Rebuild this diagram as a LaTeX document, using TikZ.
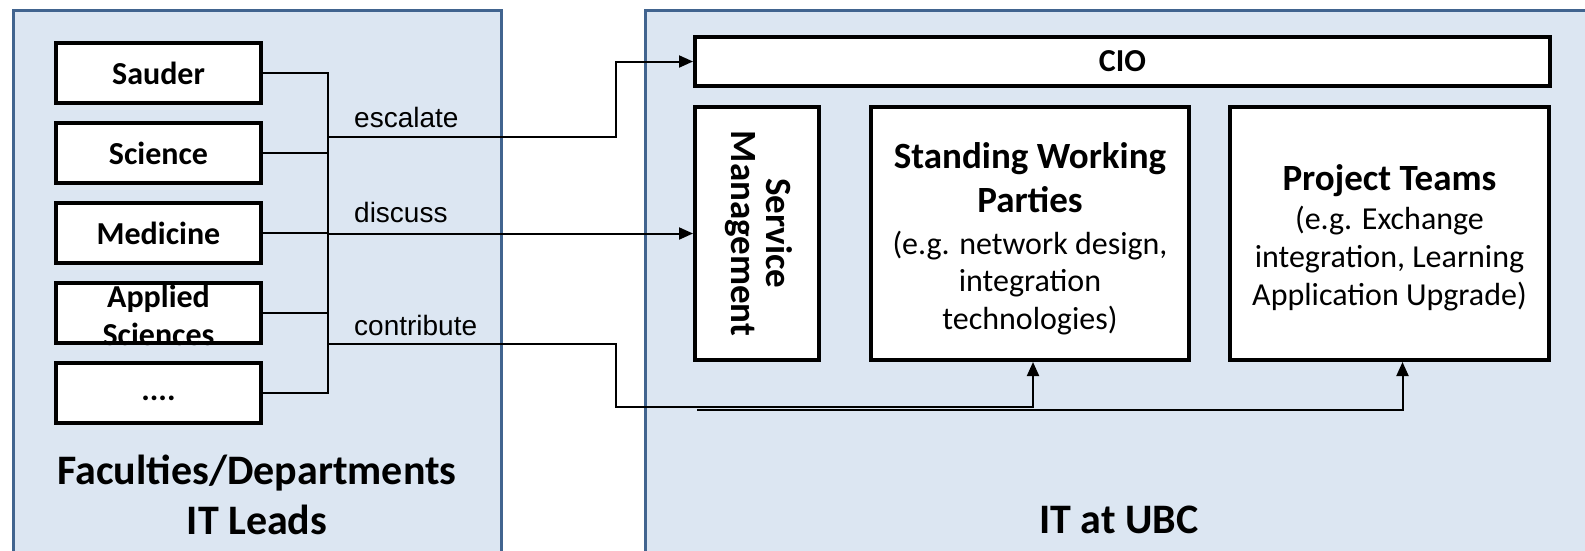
\documentclass[tikz,border=0pt]{standalone}
\usepackage{fontspec}
\setmainfont{Carlito}
\newfontfamily\verbfont{Liberation Sans}
\usetikzlibrary{arrows.meta,positioning}
\definecolor{panelfill}{RGB}{220,230,242}
\definecolor{paneledge}{RGB}{65,100,143}
\newcommand\grouphead[1]{{\fontsize{37}{42}\selectfont\bfseries #1}}
\begin{document}
\begin{tikzpicture}[x=1pt,y=-1pt,>={Triangle[length=14pt,width=12pt]},
        panel/.style={draw=paneledge,line width=3pt,fill=panelfill},
        unit/.style={draw,line width=4pt,fill=white,inner sep=0pt,align=center,
                font=\fontsize{32}{37}\selectfont\bfseries},
        faculty/.style={unit,minimum width=205,minimum height=60},
        group/.style={unit,minimum height=253,font=\fontsize{32}{37}\selectfont},
        conn/.style={line width=2pt},
        verb/.style={anchor=base west,inner sep=0pt,font=\verbfont\fontsize{28}{32}\selectfont},
        heading/.style={align=center,inner sep=0pt,font=\fontsize{42}{50}\selectfont\bfseries}]
                \useasboundingbox (0,0) rectangle (1585,550);
                \clip (0,0) rectangle (1585,550);
                \draw[panel] (13,10) rectangle (501,600);
                \draw[panel] (645,10) rectangle (1640,600);
                \node[faculty] (sauder) at (158.5,73) {Sauder};
                \node[faculty,below=16pt of sauder] (science) {Science};
                \node[faculty,below=16pt of science] (medicine) {Medicine};
                \node[faculty,below=16pt of medicine] (appsci) {};
                \node[faculty,below=16pt of appsci] (dots) {\strut....};
                \node[font=\fontsize{32}{38}\selectfont\bfseries,align=center,inner sep=0pt] (appscitext) at ([yshift=-2pt]appsci) {Applied\\Sciences};
                \node[heading] (fac) at (257,495) {Faculties/Departments\\IT Leads};
                \node[unit,minimum width=855,minimum height=49] (cio) at (1122.5,61.5) {CIO};
                \node[unit,minimum width=124,minimum height=253,font=\fontsize{37}{34}\selectfont\bfseries] (sm) at (757,233.5)
                        {\rotatebox{-90}{\begin{tabular}{@{}c@{}}Service\\[1pt]Management\end{tabular}}};
                \node[group,minimum width=318,right=48pt of sm] (swp) {\rule{0pt}{37pt}\grouphead{Standing Working}\\[7pt]\grouphead{Parties}\\[5pt]
                        (e.g. network design,\\[0pt]integration\\[1pt]technologies)};
                \node[group,minimum width=319,right=37pt of swp] (pt) {\rule{0pt}{34pt}\grouphead{Project Teams}\\[2pt]
                        (e.g. Exchange\\[1pt]integration, Learning\\[1pt]Application Upgrade)};
                \node[heading] (ubc) at (1119,520) {IT at UBC};
                \coordinate (bus) at (328,0);
                \coordinate (turn) at (616,0);
                \coordinate (esc) at (328,137);
                \coordinate (contr) at (328,344);
                \coordinate (low) at (0,407);
                \coordinate (fork) at (697,410);
                \draw[conn] (sauder.east) -- (sauder.east -| bus) -- (dots.east -| bus) -- (dots.east);
                \foreach \n in {science,medicine,appsci}
                        \draw[conn] (\n.east) -- (\n.east -| bus);
                \draw[conn,->] (esc) -- (esc -| turn) |- (cio.west);
                \draw[conn,->] (sm.west -| bus) -- (sm.west);
                \draw[conn,->] (contr) -- (contr -| turn) -- (turn |- low) -| ([xshift=3pt]swp.south);
                \draw[conn,->] (fork) -| ([xshift=13pt]pt.south);
                \node[verb] (escalate) at (354,127) {escalate};
                \node[verb] (discuss) at (354,222) {discuss};
                \node[verb] (contribute) at (354,335) {contribute};
\end{tikzpicture}
\end{document}
